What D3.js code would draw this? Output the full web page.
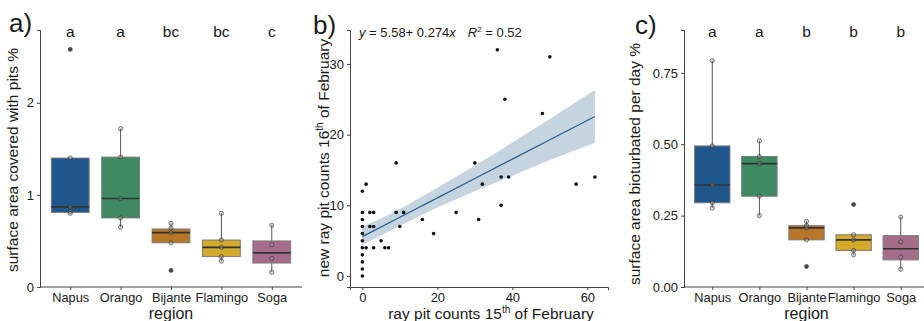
<!DOCTYPE html>
<html>
<head>
<meta charset="utf-8">
<script src="https://cdn.jsdelivr.net/npm/d3@7"></script>
<style>
  body { margin: 0; background: #fff; }
  svg text { font-family: "Liberation Sans", Arial, sans-serif; fill: #1a1a1a; }
  .axis path, .axis line { stroke: #444; }
</style>
</head>
<body>
<div id="chartArea"></div>
<script>
// data setup
var regions = ["Napus", "Orango", "Bijante", "Flamingo", "Soga"];
var fills = ["#1f568c", "#3d8a63", "#b87628", "#d4aa2c", "#a56d89"];

// a) surface area covered with pits %
var pitsLetters = ["a", "a", "bc", "bc", "c"];
var pitsQ1  = [0.81, 0.75, 0.48, 0.33, 0.26];
var pitsMed = [0.87, 0.96, 0.59, 0.43, 0.37];
var pitsQ3  = [1.40, 1.41, 0.63, 0.51, 0.50];
var pitsLo  = [0.80, 0.65, 0.48, 0.28, 0.16];
var pitsHi  = [1.40, 1.72, 0.69, 0.80, 0.67];
var pitsOut = [[2.58], [], [0.18], [], []];
var pitsPts = [
  [2.58, 1.40, 0.87, 0.82, 0.80],
  [1.72, 1.41, 0.96, 0.75, 0.65],
  [0.69, 0.64, 0.59, 0.48, 0.18],
  [0.80, 0.51, 0.43, 0.33, 0.28],
  [0.67, 0.46, 0.31, 0.16]
];
var pitsTicks = [0, 1, 2];

// c) surface area bioturbated per day %
var bioLetters = ["a", "a", "b", "b", "b"];
var bioQ1  = [0.295, 0.318, 0.165, 0.128, 0.095];
var bioMed = [0.357, 0.432, 0.207, 0.165, 0.134];
var bioQ3  = [0.494, 0.457, 0.215, 0.183, 0.180];
var bioLo  = [0.277, 0.250, 0.165, 0.113, 0.062];
var bioHi  = [0.793, 0.512, 0.230, 0.183, 0.245];
var bioOut = [[], [], [0.072], [0.289], []];
var bioPts = [
  [0.793, 0.494, 0.357, 0.295, 0.277],
  [0.512, 0.457, 0.432, 0.318, 0.250],
  [0.230, 0.215, 0.207, 0.165, 0.072],
  [0.289, 0.183, 0.165, 0.128, 0.113],
  [0.245, 0.158, 0.105, 0.062]
];
var bioTicks = [0, 0.25, 0.5, 0.75];

// b) ray pit counts
var countsFeb15 = [0, 0, 0, 0, 0, 0, 0, 0, 0, 0, 0, 1, 1, 2, 3, 2, 3, 3, 5, 6, 7, 9, 9, 11, 10,
  16, 19, 25, 30, 31, 32, 36, 37, 39, 37, 38, 48, 50, 57, 62];
var countsFeb16 = [0, 1, 2, 3, 4, 5, 6, 7, 8, 9, 12, 13, 4, 9, 9, 7, 7, 4, 5, 4, 4, 9, 16, 9, 7,
  8, 6, 9, 16, 8, 13, 32, 14, 14, 10, 25, 23, 31, 13, 14];
var fitX  = [0, 10, 20, 30, 40, 50, 62];
var fitY  = [5.58, 8.32, 11.06, 13.8, 16.54, 19.28, 22.57];
var fitLo = [4.4, 7.1, 9.7, 12.0, 14.2, 16.4, 18.8];
var fitHi = [7.0, 9.5, 12.5, 15.6, 18.9, 22.2, 26.3];
var countTicksX = [0, 20, 40, 60];
var countTicksY = [0, 10, 20, 30];

var W = 924, H = 321;
var svg = d3.select("#chartArea").append("svg")
  .attr("width", W)
  .attr("height", H);

function rotLabel(x, y, txt) {
  return svg.append("text")
    .attr("transform", "translate(" + x + "," + y + ") rotate(-90)")
    .attr("text-anchor", "middle")
    .attr("font-size", 15.5)
    .text(txt);
}

function styleAxis(g) {
  g.attr("class", "axis");
  g.select(".domain").attr("stroke", "#444").attr("stroke-width", 1);
  g.selectAll(".tick line").attr("stroke", "#444");
  g.selectAll(".tick text").attr("font-size", 13).attr("fill", "#1a1a1a");
}

// box panel
function drawBoxes(o) {
  // ggplot style discrete expansion: 0.6 of a step on each side
  var step = (o.right - o.left) / (regions.length - 1 + 1.2);
  var cx = function(i) { return o.left + step * (0.6 + i); };
  var bw = step * 0.75;
  var y = d3.scaleLinear().domain(o.domain).range([o.bottom, o.top]);

  regions.forEach(function(r, i) {
    var g = svg.append("g");
    // whiskers
    g.append("line").attr("x1", cx(i)).attr("x2", cx(i))
      .attr("y1", y(o.hi[i])).attr("y2", y(o.q3[i]))
      .attr("stroke", "#555").attr("stroke-width", 1);
    g.append("line").attr("x1", cx(i)).attr("x2", cx(i))
      .attr("y1", y(o.lo[i])).attr("y2", y(o.q1[i]))
      .attr("stroke", "#555").attr("stroke-width", 1);
    g.append("rect")
      .attr("x", cx(i) - bw / 2).attr("width", bw)
      .attr("y", y(o.q3[i])).attr("height", y(o.q1[i]) - y(o.q3[i]))
      .attr("fill", fills[i]).attr("stroke", "#7a7a7a").attr("stroke-width", 1);
    g.append("line")
      .attr("x1", cx(i) - bw / 2).attr("x2", cx(i) + bw / 2)
      .attr("y1", y(o.med[i])).attr("y2", y(o.med[i]))
      .attr("stroke", "#333").attr("stroke-width", 1.6);
    g.selectAll(".out").data(o.out[i]).enter().append("circle")
      .attr("cx", cx(i)).attr("cy", function(d) { return y(d); })
      .attr("r", 1.8).attr("fill", "#111");
    g.selectAll(".pt").data(o.pts[i]).enter().append("circle")
      .attr("cx", cx(i)).attr("cy", function(d) { return y(d); })
      .attr("r", 2.1).attr("fill", "#999").attr("fill-opacity", 0.35)
      .attr("stroke", "#333").attr("stroke-opacity", 0.75).attr("stroke-width", 0.8);
    svg.append("text")
      .attr("x", cx(i)).attr("y", 37)
      .attr("text-anchor", "middle").attr("font-size", 15.5)
      .text(o.letters[i]);
  });

  var ax = svg.append("g")
    .attr("transform", "translate(0," + o.bottom + ")")
    .call(d3.axisBottom(d3.scalePoint().domain(regions)
      .range([cx(0), cx(regions.length - 1)])).tickSizeOuter(0).tickSize(3));
  ax.select(".domain").attr("d", "M" + o.left + ",0H" + o.right);
  styleAxis(ax);
  ax.selectAll(".tick text").attr("font-size", 12.8);

  var ay = svg.append("g")
    .attr("transform", "translate(" + o.left + ",0)")
    .call(d3.axisLeft(y).tickValues(o.ticks).tickFormat(o.fmt).tickSizeOuter(0).tickSize(3));
  styleAxis(ay);

  svg.append("text")
    .attr("x", (cx(0) + cx(regions.length - 1)) / 2).attr("y", 319)
    .attr("text-anchor", "middle").attr("font-size", 16)
    .text("region");
}

drawBoxes({
  left: 40, right: 302, top: 30, bottom: 287, domain: [0, 2.79],
  q1: pitsQ1, med: pitsMed, q3: pitsQ3, lo: pitsLo, hi: pitsHi,
  out: pitsOut, pts: pitsPts, letters: pitsLetters,
  ticks: pitsTicks, fmt: d3.format("d")
});
rotLabel(18, 160, "surface area covered with pits %");

drawBoxes({
  left: 684, right: 929, top: 30, bottom: 287, domain: [0, 0.90],
  q1: bioQ1, med: bioMed, q3: bioQ3, lo: bioLo, hi: bioHi,
  out: bioOut, pts: bioPts, letters: bioLetters,
  ticks: bioTicks, fmt: d3.format(".2f")
});
rotLabel(640, 164, "surface area bioturbated per day %");

// scatter panel
var bx = d3.scaleLinear().domain([-3.3, 65.5]).range([350, 608]);
var by = d3.scaleLinear().domain([-1.55, 34.8]).range([287, 30]);
var band = fitX.map(function(d, i) { return { x: d, lo: fitLo[i], hi: fitHi[i], y: fitY[i] }; });

svg.append("path")
  .datum(band)
  .attr("fill", "#c6d4e0")
  .attr("d", d3.area().curve(d3.curveMonotoneX)
    .x(function(d) { return bx(d.x); })
    .y0(function(d) { return by(d.lo); })
    .y1(function(d) { return by(d.hi); }));

svg.append("path")
  .datum(band)
  .attr("fill", "none").attr("stroke", "#2b5e98").attr("stroke-width", 1.3)
  .attr("d", d3.line()
    .x(function(d) { return bx(d.x); })
    .y(function(d) { return by(d.y); }));

svg.selectAll(".dot")
  .data(countsFeb15.map(function(d, i) { return [d, countsFeb16[i]]; }))
  .enter().append("circle")
  .attr("cx", function(d) { return bx(d[0]); })
  .attr("cy", function(d) { return by(d[1]); })
  .attr("r", 1.8).attr("fill", "#111");

var bxa = svg.append("g")
  .attr("transform", "translate(0,287)")
  .call(d3.axisBottom(bx).tickValues(countTicksX).tickSizeOuter(0).tickSize(3));
styleAxis(bxa);
var bya = svg.append("g")
  .attr("transform", "translate(350,0)")
  .call(d3.axisLeft(by).tickValues(countTicksY).tickSizeOuter(0).tickSize(3));
styleAxis(bya);

// equation label
var eq = svg.append("text").attr("x", 359).attr("y", 37).attr("font-size", 13);
eq.append("tspan").attr("font-style", "italic").text("y");
eq.append("tspan").text(" = 5.58+ 0.274");
eq.append("tspan").attr("font-style", "italic").text("x");
eq.append("tspan").attr("dx", 12).attr("font-style", "italic").text("R");
eq.append("tspan").attr("font-size", 8).attr("dy", -5).text("2");
eq.append("tspan").attr("dy", 5).text(" = 0.52");

// axis titles with superscripts
var xt = svg.append("text").attr("x", 491).attr("y", 319)
  .attr("text-anchor", "middle").attr("font-size", 15.5);
xt.append("tspan").text("ray pit counts 15");
xt.append("tspan").attr("font-size", 10).attr("dy", -6).text("th");
xt.append("tspan").attr("dy", 6).text(" of February");

var yt = svg.append("text")
  .attr("transform", "translate(329,158) rotate(-90)")
  .attr("text-anchor", "middle").attr("font-size", 15.5);
yt.append("tspan").text("new ray pit counts 16");
yt.append("tspan").attr("font-size", 10).attr("dy", -6).text("th");
yt.append("tspan").attr("dy", 6).text(" of February");

// panel letters
[["a)", 9, 32], ["b)", 313, 34], ["c)", 635, 34]].forEach(function(p) {
  svg.append("text").attr("x", p[1]).attr("y", p[2])
    .attr("font-size", 26).text(p[0]);
});
</script>
</body>
</html>
